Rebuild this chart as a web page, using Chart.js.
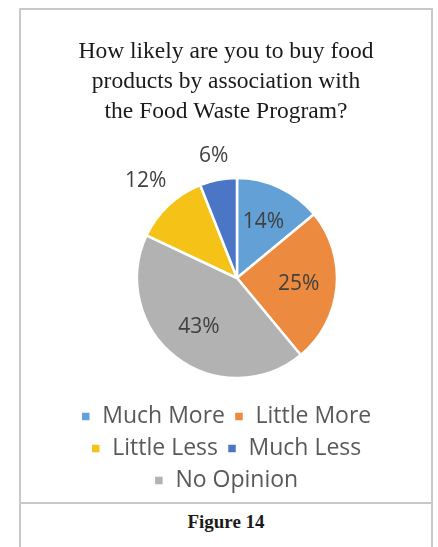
<!DOCTYPE html>
<html>
<head>
<meta charset="utf-8">
<script src="https://cdn.jsdelivr.net/npm/chart.js@4/dist/chart.umd.min.js"></script>
<style>
  body { margin: 0; background: #fff; width: 438px; height: 547px; overflow: hidden; position: relative; }
  .chartbox {
    position: absolute; left: 19px; top: 8px; width: 414px; height: 496px;
    box-sizing: border-box; border: 2px solid #c8c8c8;
  }
  .chartbox canvas { display: block; }
  .caption {
    position: absolute; left: 19px; top: 502px; width: 414px; height: 60px;
    box-sizing: border-box; border-left: 2px solid #c8c8c8; border-right: 2px solid #c8c8c8;
    font-family: "Liberation Serif", serif; font-size: 19px; font-weight: bold; color: #1a1a1a;
    text-align: center; padding-top: 9px;
  }
</style>
</head>
<body>
<div class="chartbox"><canvas id="pieChart" width="410" height="492"></canvas></div>
<div class="caption">Figure 14</div>
<script>
// data, in pie order (clockwise from 12 o'clock)
const categories = ['Much More', 'Little More', 'No Opinion', 'Little Less', 'Much Less'];
const percents = [14, 25, 43, 12, 6];
const sliceColors = ['#62a0d6', '#ec8b3f', '#b2b2b2', '#f5c317', '#4a76c5'];
// legend shows the items in this order
const legendOrder = ['Much More', 'Little More', 'Little Less', 'Much Less', 'No Opinion'];
const titleLines = ['How likely are you to buy food', 'products by association with', 'the Food Waste Program?'];

// shifts the pie a bit right of the box centre and writes the % labels
const pieLabels = {
    id: 'pieLabels',
    beforeDatasetsDraw(chart, args, opts) {
        chart.ctx.save();
        chart.ctx.translate(opts.shiftX || 0, 0);
    },
    afterDatasetsDraw(chart, args, opts) {
        const ctx = chart.ctx;
        const meta = chart.getDatasetMeta(0);
        ctx.font = '21px "Open Sans"';
        ctx.fillStyle = '#404040';
        ctx.textAlign = 'center';
        ctx.textBaseline = 'middle';
        meta.data.forEach((arc, i) => {
            const val = percents[i];
            const mid = (arc.startAngle + arc.endAngle) / 2;
            const r = arc.outerRadius;
            const txt = val + '%';
            let dist;
            if (val >= 14) {
                dist = r * 0.62;
            } else {
                const halfW = ctx.measureText(txt).width / 2;
                dist = r + 12 + Math.abs(Math.cos(mid)) * halfW + Math.abs(Math.sin(mid)) * 10;
            }
            ctx.fillText(txt, arc.x + Math.cos(mid) * dist, arc.y + Math.sin(mid) * dist);
        });
        ctx.restore();
    }
};

new Chart(document.getElementById('pieChart'), {
    type: 'pie',
    data: {
        labels: categories,
        datasets: [{
            data: percents,
            backgroundColor: sliceColors,
            borderColor: '#ffffff',
            borderWidth: 2.5,
            radius: 100
        }]
    },
    options: {
        responsive: false,
        animation: false,
        layout: { padding: 0 },
        plugins: {
            title: {
                display: true,
                text: titleLines,
                color: '#1a1a1a',
                font: { family: '"Liberation Serif"', size: 23.5, weight: 'normal', lineHeight: 30 / 23.5 },
                padding: { top: 27, bottom: 33 }
            },
            legend: {
                position: 'bottom',
                labels: {
                    color: '#595959',
                    font: { family: '"Open Sans"', size: 23 },
                    boxWidth: 10,
                    boxHeight: 10,
                    padding: 9,
                    sort: (a, b) => legendOrder.indexOf(a.text) - legendOrder.indexOf(b.text)
                }
            },
            tooltip: { enabled: false },
            pieLabels: { shiftX: 11 }
        }
    },
    plugins: [pieLabels]
});
</script>
</body>
</html>
